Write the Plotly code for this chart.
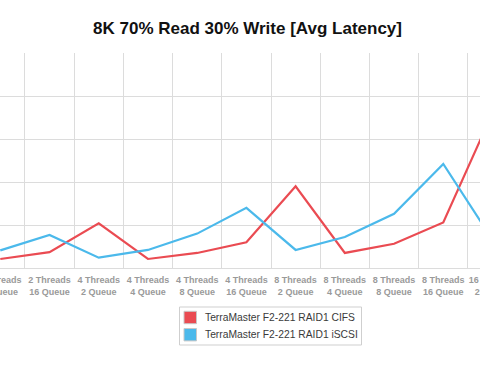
import plotly.graph_objects as go

categories = [
    "2 Threads<br>8 Queue", "2 Threads<br>16 Queue", "4 Threads<br>2 Queue",
    "4 Threads<br>4 Queue", "4 Threads<br>8 Queue", "4 Threads<br>16 Queue",
    "8 Threads<br>2 Queue", "8 Threads<br>4 Queue", "8 Threads<br>8 Queue",
    "8 Threads<br>16 Queue", "16 Threads<br>2 Queue",
]
series_names = ["TerraMaster F2-221 RAID1 CIFS", "TerraMaster F2-221 RAID1 iSCSI"]
cifs_values = [0.21, 0.37, 1.04, 0.21, 0.35, 0.60, 1.90, 0.35, 0.565, 1.06, 3.61]
iscsi_values = [0.41, 0.77, 0.24, 0.42, 0.80, 1.40, 0.42, 0.72, 1.26, 2.42, 0.66]
colors = ["#EA4B52", "#4BB9EB"]

W, H = 520, 378       # figure is wider than the 480px window; chart is cropped on the right
PT, PB = 53, 268      # plot area top/bottom in px
CAT_PX = 49.22        # px per category

fig = go.Figure()
for name, vals, col in zip(series_names, [cifs_values, iscsi_values], colors):
    fig.add_trace(go.Scatter(x=categories, y=vals, mode="lines", name=name,
                             line=dict(color=col, width=2.2), showlegend=False))

grid = "#dcdcdc"
fig.update_layout(
    width=W, height=H,
    margin=dict(l=0, r=0, t=PT, b=H - PB, autoexpand=False),
    plot_bgcolor="white", paper_bgcolor="white",
    title=dict(text="<b>8K 70% Read 30% Write [Avg Latency]</b>",
               x=247.5 / W, xanchor="center", xref="container",
               y=1 - 28 / H, yanchor="middle", yref="container",
               font=dict(family="Liberation Sans, Arial", size=17, color="#111")),
    xaxis=dict(type="category", range=[-0.006, W / CAT_PX - 0.006], tickson="boundaries",
               automargin=False,
               showgrid=True, gridcolor=grid, gridwidth=1, ticks="",
               showline=True, linecolor=grid, linewidth=1, tickangle=0,
               tickfont=dict(family="Liberation Sans, Arial", size=9, color="#9a9a9a",
                             weight="bold"),
               ticklabelstandoff=3),
    yaxis=dict(range=[0, 5], dtick=1, showgrid=True, gridcolor=grid, gridwidth=1,
               automargin=False,
               showticklabels=False, zeroline=False, ticks=""),
)

# manual legend (box, colour squares, labels)
def px_x(px):
    return px / W

def px_y(py):
    return (PB - py) / (PB - PT)

fig.add_shape(type="rect", xref="paper", yref="paper",
              x0=px_x(179.5), x1=px_x(361.5), y0=px_y(307), y1=px_y(345),
              line=dict(color="#cfcfcf", width=1), fillcolor="white", layer="above")
row_centers = [317.5, 334.7]
for name, col, cy in zip(series_names, colors, row_centers):
    fig.add_shape(type="rect", xref="paper", yref="paper",
                  x0=px_x(184), x1=px_x(196.5), y0=px_y(cy - 6.2), y1=px_y(cy + 6.2),
                  line=dict(color="#c8c8c8", width=1), fillcolor=col, layer="above")
    fig.add_annotation(text=name, xref="paper", yref="paper",
                       x=px_x(202.5), y=px_y(cy), xanchor="left", yanchor="middle",
                       showarrow=False,
                       font=dict(family="Liberation Sans, Arial", size=10.3, color="#3a3a3a"))

fig.write_html("out.html", config={"displayModeBar": False},
               post_script="document.body.style.margin='0';"
                           "document.body.style.overflow='hidden';"
                           "document.documentElement.style.overflow='hidden';")
